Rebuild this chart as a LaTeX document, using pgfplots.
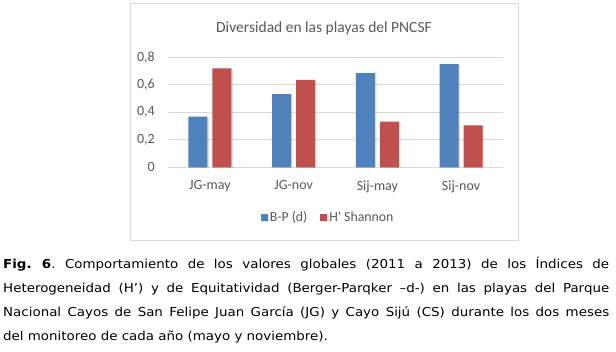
\documentclass[border=0pt]{standalone}
\usepackage{fontspec}
\setmainfont{Carlito}
\newfontfamily\cnm{Carlito}
\newfontfamily\capfont[FakeStretch=1.09]{DejaVu Sans}
\usepackage{pgfplots}
\pgfplotsset{compat=1.18}
\usetikzlibrary{shadows}
\definecolor{bpblue}{HTML}{4F81BD}
\definecolor{hred}{HTML}{C0504D}
\definecolor{txtgray}{HTML}{595959}
\definecolor{gridgray}{HTML}{D9D9D9}
\frenchspacing
\begin{document}
\begin{tikzpicture}[x=1pt,y=1pt]
\path[use as bounding box] (0,0) rectangle (616,352);
\fill[white] (0,0) rectangle (616,352);
\draw[gridgray, line width=1pt] (130.5,348) rectangle (518,111);
\node[txtgray, font=\fontsize{15.5}{18}\selectfont] at (324,324) {Diversidad en las playas del PNCSF};
\begin{axis}[
  at={(168pt,184.7pt)}, anchor=south west,
  scale only axis, width=335pt, height=110pt,
  ymin=0, ymax=0.8, xmin=-0.5, xmax=3.5,
  ybar=5pt, bar width=19pt,
  xtick={0,1,2,3}, xticklabels={JG-may,JG-nov,Sij-may,Sij-nov},
  ytick={0,0.2,0.4,0.6,0.8},
  axis lines*=left,
  x axis line style={gridgray, line width=0.8pt},
  y axis line style={draw=none},
  major tick length=0pt,
  ymajorgrids, grid style={gridgray, line width=0.8pt},
  /pgf/number format/assume math mode=true,
  /pgf/number format/fixed, /pgf/number format/precision=1, /pgf/number format/use comma,
  ticklabel style={font=\fontsize{14}{16}\selectfont, text=txtgray, inner sep=0pt},
  yticklabel style={anchor=east, xshift=-13pt},
  xticklabel style={anchor=north, yshift=-13pt},
  legend style={at={(0.478,-0.4545)}, anchor=center, draw=none, fill=none,
    legend columns=2, font=\fontsize{13.8}{16}\selectfont, text=txtgray,
    /tikz/column 2/.style={column sep=11pt}},
]
\addplot[fill=bpblue, draw=none,
  drop shadow={shadow xshift=1.5pt, shadow yshift=-1pt, opacity=0.25},
  legend image code/.code={\fill[bpblue] (0pt,-3.5pt) rectangle (7pt,3.5pt);}]
  coordinates {(0,0.368) (1,0.533) (2,0.684) (3,0.751)};
\addplot[fill=hred, draw=none,
  drop shadow={shadow xshift=1.5pt, shadow yshift=-1pt, opacity=0.25},
  legend image code/.code={\fill[hred] (0pt,-3.5pt) rectangle (7pt,3.5pt);}]
  coordinates {(0,0.720) (1,0.635) (2,0.332) (3,0.305)};
\legend{B-P (d), {\cnm H' Shannon}}
\end{axis}
\node[anchor=base west, inner sep=0pt] at (3,83) {\capfont\fontsize{12.3}{14}\selectfont\hbox to 606pt{\textbf{Fig. 6}. Comportamiento de los valores globales (2011 a 2013) de los Índices de}};
\node[anchor=base west, inner sep=0pt] at (3,59) {\capfont\fontsize{12.3}{14}\selectfont\hbox to 606pt{Heterogeneidad (H’) y de Equitatividad (Berger-Parqker –d-) en las playas del Parque}};
\node[anchor=base west, inner sep=0pt] at (3,35) {\capfont\fontsize{12.3}{14}\selectfont\hbox to 606pt{Nacional Cayos de San Felipe Juan García (JG) y Cayo Sijú (CS) durante los dos meses}};
\node[anchor=base west, inner sep=0pt] at (3,11) {\capfont\fontsize{12.3}{14}\selectfont del monitoreo de cada año (mayo y noviembre).};
\end{tikzpicture}
\end{document}
